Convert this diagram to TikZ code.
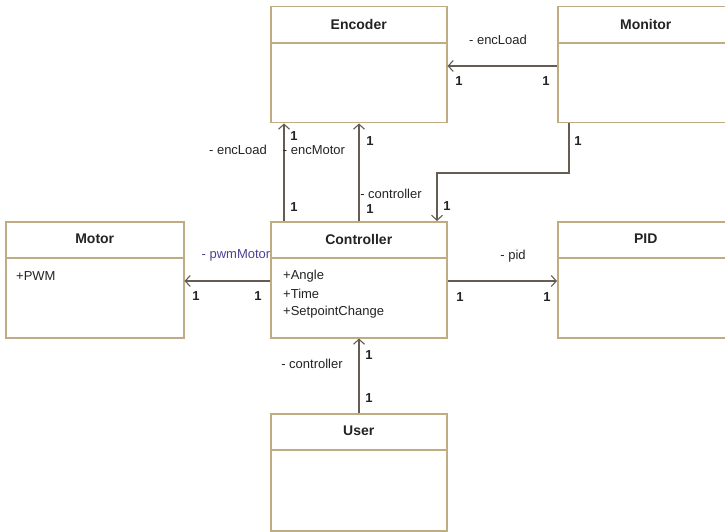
\documentclass[tikz,border=0pt]{standalone}
\usepackage{fontspec}
\setmainfont{Liberation Sans}
\usetikzlibrary{arrows.meta,calc}
\definecolor{boxline}{RGB}{192,172,130}
\definecolor{wire}{RGB}{100,94,82}
\definecolor{ink}{RGB}{35,35,35}
\definecolor{rolecol}{RGB}{80,62,150}
\tikzset{
  umlclass/.style={draw=boxline, line width=1.5pt, fill=white, rectangle,
    anchor=north west, minimum width=176pt, minimum height=116pt, inner sep=0pt},
  classtitle/.style={font=\fontsize{14}{16}\selectfont\bfseries, text=ink, anchor=center},
  attr/.style={font=\fontsize{13}{15}\selectfont, text=ink, anchor=west, inner sep=0pt},
  role/.style={font=\fontsize{13}{15}\selectfont, text=ink, inner sep=0pt},
  mult/.style={font=\fontsize{13}{15}\selectfont\bfseries, text=ink, inner sep=0pt},
  assoc/.style={draw=wire, line width=1.3pt, -{Straight Barb[length=5pt,width=11pt,line width=1.1pt]}},
  divider/.style={draw=boxline, line width=1.5pt}
}
\begin{document}
\begin{tikzpicture}[x=1pt, y=-1pt]
  \useasboundingbox (0,0) rectangle (725,532);

  % class boxes
  \node[umlclass] (enc) at (270,6) {};
  \node[umlclass] (mon) at (557,6) {};
  \node[umlclass, minimum width=178pt] (mot) at (5,221) {};
  \node[umlclass] (ctl) at (270,221) {};
  \node[umlclass] (pid) at (557,221) {};
  \node[umlclass, minimum height=117pt] (usr) at (270,413) {};

  % title compartments
  \foreach \c/\t in {enc/Encoder, mon/Monitor, mot/Motor, ctl/Controller, pid/PID, usr/User} {
    \draw[divider] ($(\c.north west)+(0,37)$) -- ($(\c.north east)+(0,37)$);
    \node[classtitle] (\c-title) at ($(\c.north)+(0,18)$) {\t};
  }

  % attributes
  \node[attr] (mot-a1) at (16,276) {+PWM};
  \node[attr] (ctl-a1) at (283,276) {+Angle};
  \node[attr] (ctl-a2) at (283,294) {+Time};
  \node[attr] (ctl-a3) at (283,312) {+SetpointChange};

  % Monitor -> Encoder
  \draw[assoc] (mon.west |- 0,66) -- (enc.east |- 0,66);
  \node[role] (r-mon-enc) at (498,40) {- encLoad};
  \node[mult] (m-mon-enc-a) at (459,81) {1};
  \node[mult] (m-mon-enc-b) at (546,81) {1};

  % Monitor -> Controller
  \coordinate (mc1) at (569,173);
  \coordinate (mc2) at (437,173);
  \draw[assoc] (mon.south -| mc1) -- (mc1) -- (mc2) -- (ctl.north -| mc2);
  \node[mult] (m-mon-ctl-a) at (578,141) {1};
  \node[mult] (m-mon-ctl-b) at (447,206) {1};

  % Controller -> Encoder (two associations)
  \coordinate (ce1) at (284,0);
  \coordinate (ce2) at (359,0);
  \draw[assoc] (ctl.north -| ce1) -- (enc.south -| ce1);
  \draw[assoc] (ctl.north -| ce2) -- (enc.south -| ce2);
  \node[role] (r-ctl-enc-a) at (238,150) {- encLoad};
  \node[role] (r-ctl-enc-b) at (314,150) {- encMotor};
  \node[mult] (m-ctl-enc-a) at (294,136) {1};
  \node[mult] (m-ctl-enc-b) at (294,207) {1};
  \node[role] (r-ctl-enc-c) at (391,194) {- controller};
  \node[mult] (m-ctl-enc-c) at (370,141) {1};
  \node[mult] (m-ctl-enc-d) at (370,209) {1};

  % Controller -> Motor
  \draw[assoc] (ctl.west |- 0,281) -- (mot.east |- 0,281);
  \node[role, text=rolecol] (r-ctl-mot) at (236,255) {- pwmMotor};
  \node[mult] (m-ctl-mot-a) at (196,296) {1};
  \node[mult] (m-ctl-mot-b) at (258,296) {1};

  % Controller -> PID
  \draw[assoc] (ctl.east |- 0,281) -- (pid.west |- 0,281);
  \node[role] (r-ctl-pid) at (513,256) {- pid};
  \node[mult] (m-ctl-pid-a) at (460,297) {1};
  \node[mult] (m-ctl-pid-b) at (547,297) {1};

  % User -> Controller
  \draw[assoc] (usr.north -| ce2) -- (ctl.south -| ce2);
  \node[role] (r-usr-ctl) at (312,364) {- controller};
  \node[mult] (m-usr-ctl-a) at (369,355) {1};
  \node[mult] (m-usr-ctl-b) at (369,398) {1};
\end{tikzpicture}
\end{document}
